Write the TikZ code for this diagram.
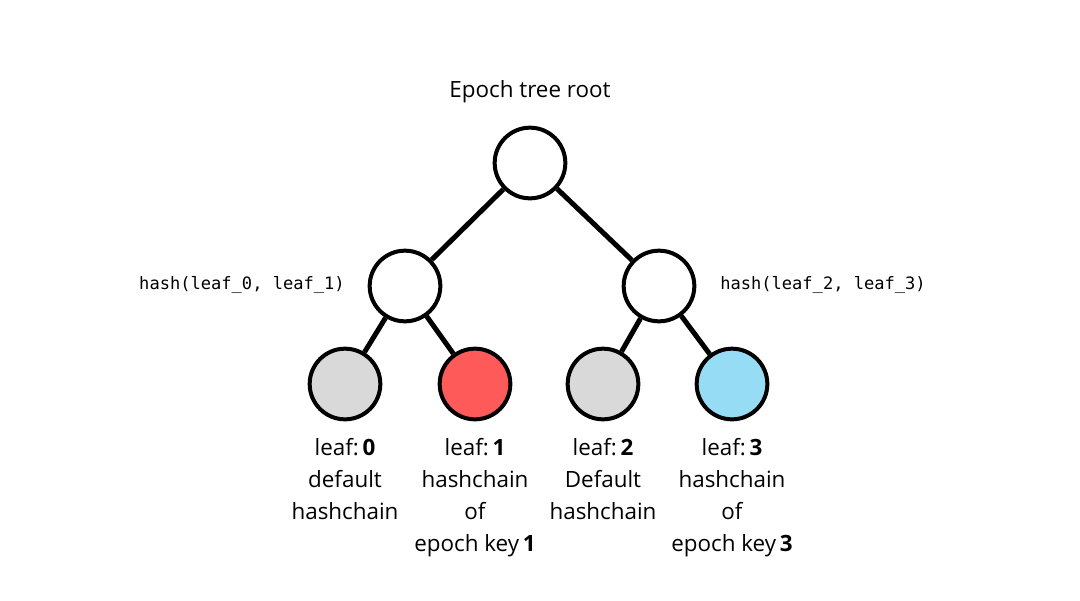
\documentclass[tikz,border=0pt]{standalone}
\usepackage{fontspec}
\setmainfont{Open Sans}
\setmonofont{DejaVu Sans Mono}
\definecolor{leafgray}{HTML}{D9D9D9}
\definecolor{leafred}{HTML}{FF5A5A}
\definecolor{leafblue}{HTML}{97DCF5}
\begin{document}
\begin{tikzpicture}[x=0.75pt,y=-0.75pt,
  tnode/.style={circle,draw=black,line width=3pt,minimum size=53pt,inner sep=0pt,fill=white},
  edge/.style={line width=3.75pt,draw=black},
  lbl/.style={font=\fontsize{16.8}{24}\selectfont,align=center,anchor=north,inner sep=0pt},
  hlbl/.style={font=\ttfamily\fontsize{12.8}{15}\selectfont,inner sep=0pt}]
\useasboundingbox (0,0) rectangle (1080,600);
\node[tnode] (root) at (530,163) {};
\node[tnode] (ml) at (405,286) {};
\node[tnode] (mr) at (659,286) {};
\node[tnode,fill=leafgray] (l0) at (345,384) {};
\node[tnode,fill=leafred] (l1) at (475,384) {};
\node[tnode,fill=leafgray] (l2) at (603,384) {};
\node[tnode,fill=leafblue] (l3) at (732,384) {};
\draw[edge] (root) -- (ml);
\draw[edge] (root) -- (mr);
\draw[edge] (ml) -- (l0);
\draw[edge] (ml) -- (l1);
\draw[edge] (mr) -- (l2);
\draw[edge] (mr) -- (l3);
\node[font=\fontsize{16.8}{20}\selectfont,inner sep=0pt] (title) at (530,92) {Epoch tree root};
\node[hlbl,anchor=east] (hl) at (345,285) {hash(leaf\_0, leaf\_1)};
\node[hlbl,anchor=west] (hr) at (720,285) {hash(leaf\_2, leaf\_3)};
\node[lbl] (t0) at (345,438) {leaf:\,\textbf{0}\\default\\hashchain};
\node[lbl] (t1) at (475,438) {leaf:\,\textbf{1}\\hashchain\\of\\epoch key\,\textbf{1}};
\node[lbl] (t2) at (603,438) {leaf:\,\textbf{2}\\Default\\hashchain};
\node[lbl] (t3) at (732,438) {leaf:\,\textbf{3}\\hashchain\\of\\epoch key\,\textbf{3}};
\end{tikzpicture}
\end{document}
